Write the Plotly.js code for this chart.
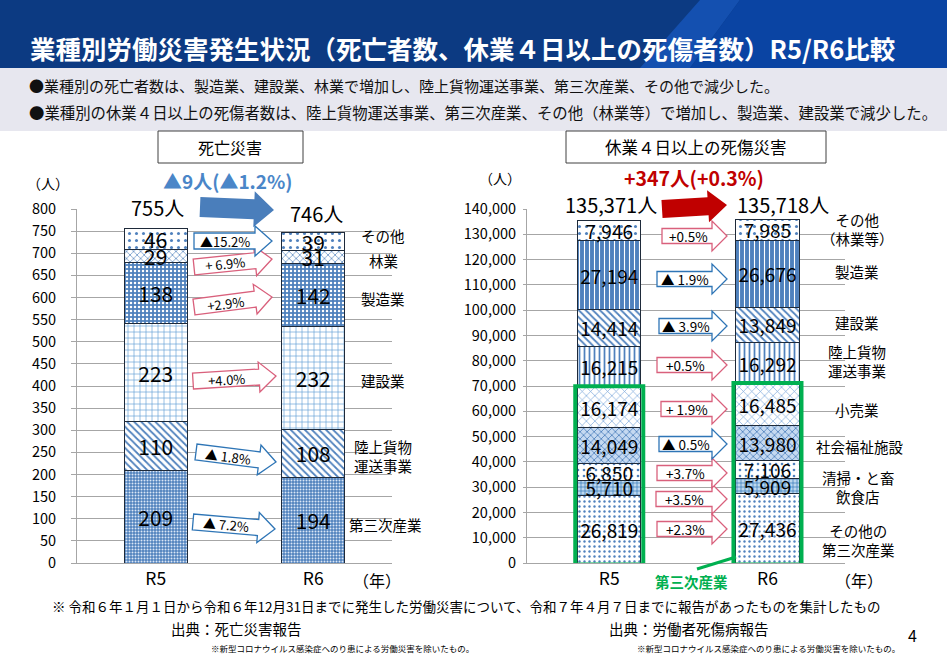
<!DOCTYPE html>
<html><head><meta charset="utf-8">
<script src="https://cdn.plot.ly/plotly-3.0.1.min.js"></script>
<style>html,body{margin:0;padding:0;background:#fff;} #chart{width:947px;height:655px;}</style>
</head><body><div id="chart"></div>
<script>
// ---------- DATA ----------
const years = ['R5', 'R6'];

// 死亡災害 (stack order bottom → top)
const fatalCategories = ['第三次産業', '陸上貨物運送事業', '建設業', '製造業', '林業', 'その他'];
const fatalTertiary = [209, 194];
const fatalTransport = [110, 108];
const fatalConstruction = [223, 232];
const fatalManufacturing = [138, 142];
const fatalForestry = [29, 31];
const fatalOther = [46, 39];
const fatalChange = ['▲ 7.2%', '▲ 1.8%', '+4.0%', '+2.9%', '+ 6.9%', '▲15.2%'];
const fatalDiffText = '▲9人(▲1.2%)';

// 休業4日以上の死傷災害 (stack order bottom → top)
const injuryCategories = ['その他の第三次産業', '飲食店', '清掃・と畜', '社会福祉施設', '小売業', '陸上貨物運送事業', '建設業', '製造業', 'その他（林業等）'];
const injOtherTertiary = [26819, 27436];
const injRestaurant = [5710, 5909];
const injCleaning = [6850, 7106];
const injWelfare = [14049, 13980];
const injRetail = [16174, 16485];
const injTransport = [16215, 16292];
const injConstruction = [14414, 13849];
const injManufacturing = [27194, 26676];
const injOther = [7946, 7985];
const injuryChange = ['+2.3%', '+3.5%', '+3.7%', '▲ 0.5%', '+ 1.9%', '+0.5%', '▲ 3.9%', '▲ 1.9%', '+0.5%'];
const injuryDiffText = '+347人(+0.3%)';

// ---------- HELPERS ----------
const W = 947, H = 655;
const px = x => x / W;
const py = y => 1 - y / H;
const FONT = '"Noto Sans CJK JP", "Noto Sans", sans-serif';
const EDGE = '#1e2a3a';
const fmt = v => v.toLocaleString('en-US');
const sum = arr => arr.reduce((a, b) => a + b, 0);

function pat(shape, bg, fg, size, solidity) {
  return {shape: shape, bgcolor: bg, fgcolor: fg, size: size, solidity: solidity, fillmode: 'replace'};
}
function barTrace(name, y, xa, ya, pattern, fsize, useComma) {
  return {
    type: 'bar', name: name, x: years, y: y, xaxis: xa, yaxis: ya,
    marker: {color: pattern.bgcolor, pattern: pattern, line: {color: EDGE, width: 1}},
    text: y.map(v => useComma ? fmt(v) : String(v)),
    textposition: 'inside', insidetextanchor: 'middle', constraintext: 'none', textangle: 0,
    textfont: {family: FONT, size: fsize, color: '#000'},
    hoverinfo: 'skip', showlegend: false
  };
}

// ---------- TRACES ----------
const fatalSeries = [fatalTertiary, fatalTransport, fatalConstruction, fatalManufacturing, fatalForestry, fatalOther];
const fatalPatterns = [
  pat('.', '#4f81bd', '#dbe7f6', 3, 0.35),
  pat('\\', '#ffffff', '#4f81bd', 5, 0.35),
  pat('+', '#ffffff', '#5b9bd5', 6, 0.2),
  pat('.', '#4f81bd', '#ffffff', 4, 0.3),
  pat('x', '#ffffff', '#4f81bd', 5, 0.25),
  pat('.', '#ffffff', '#4f81bd', 7, 0.15)
];
const injurySeries = [injOtherTertiary, injRestaurant, injCleaning, injWelfare, injRetail, injTransport, injConstruction, injManufacturing, injOther];
const injuryPatterns = [
  pat('.', '#ffffff', '#4f81bd', 5, 0.18),
  pat('+', '#bdd7ee', '#2e75b6', 4, 0.3),
  pat('.', '#ffffff', '#4f81bd', 6, 0.15),
  pat('x', '#c5d9f1', '#4f81bd', 5, 0.3),
  pat('x', '#ffffff', '#6f9fd8', 6, 0.2),
  pat('|', '#ffffff', '#4f81bd', 5, 0.35),
  pat('\\', '#ffffff', '#4f81bd', 5, 0.35),
  pat('|', '#4f81bd', '#ffffff', 5, 0.22),
  pat('.', '#ffffff', '#4f81bd', 7, 0.15)
];

const traces = [];
fatalSeries.forEach((s, i) => traces.push(barTrace(fatalCategories[i], s, 'x', 'y', fatalPatterns[i], 21, false)));
injurySeries.forEach((s, i) => traces.push(barTrace(injuryCategories[i], s, 'x2', 'y2', injuryPatterns[i], 19, true)));

// ---------- SHAPES ----------
const shapes = [];
// header
shapes.push({type: 'rect', xref: 'paper', yref: 'paper', x0: 0, x1: 1, y0: py(68), y1: 1, fillcolor: '#0c3a82', line: {width: 0}, layer: 'below'});
shapes.push({type: 'path', xref: 'paper', yref: 'paper', layer: 'below', line: {width: 0}, fillcolor: '#1450b0',
  path: `M${px(640)},${py(68)} L${px(700)},${py(0)} L${px(740)},${py(0)} L${px(690)},${py(68)} Z`});
shapes.push({type: 'path', xref: 'paper', yref: 'paper', layer: 'below', line: {width: 0}, fillcolor: '#0a44a3',
  path: `M${px(690)},${py(68)} L${px(740)},${py(0)} L${px(947)},${py(0)} L${px(947)},${py(68)} Z`});
shapes.push({type: 'rect', xref: 'paper', yref: 'paper', x0: 0, x1: 1, y0: py(131), y1: py(68), fillcolor: '#e7e7ef', line: {width: 0}, layer: 'below'});
// title boxes
shapes.push({type: 'rect', xref: 'paper', yref: 'paper', x0: px(158), x1: px(303), y0: py(163), y1: py(131), fillcolor: '#fff', line: {color: '#404040', width: 1}});
shapes.push({type: 'rect', xref: 'paper', yref: 'paper', x0: px(566), x1: px(826), y0: py(163), y1: py(131), fillcolor: '#fff', line: {color: '#404040', width: 1}});

function arrowPath(tx, ty, hx, hy, h, Hh, L) {
  const dx = hx - tx, dy = hy - ty, len = Math.hypot(dx, dy);
  const ux = dx / len, uy = dy / len, nx = -uy, ny = ux;
  const bx = hx - ux * L, by = hy - uy * L;
  const pts = [[tx + nx * h, ty + ny * h], [bx + nx * h, by + ny * h], [bx + nx * Hh, by + ny * Hh], [hx, hy],
               [bx - nx * Hh, by - ny * Hh], [bx - nx * h, by - ny * h], [tx - nx * h, ty - ny * h]];
  return 'M' + pts.map(p => px(p[0]).toFixed(5) + ',' + py(p[1]).toFixed(5)).join(' L') + ' Z';
}
const annotations = [];
function addArrow(tx, ty, hx, hy, h, Hh, L, color, fill, label, fsize) {
  shapes.push({type: 'path', xref: 'paper', yref: 'paper', path: arrowPath(tx, ty, hx, hy, h, Hh, L),
    fillcolor: fill, line: {color: color, width: fill === '#ffffff' ? 1.3 : 0}});
  if (label) {
    const ang = Math.atan2(hy - ty, hx - tx) * 180 / Math.PI;
    const cx = tx + (hx - tx) * 0.4, cy = ty + (hy - ty) * 0.4;
    annotations.push({xref: 'paper', yref: 'paper', x: px(cx), y: py(cy), text: label, showarrow: false,
      textangle: Math.abs(ang) < 0.5 ? 0 : ang, xanchor: 'center', yanchor: 'middle',
      font: {family: FONT, size: fsize, color: '#000'}});
  }
}
const ABLUE = '#2e75b6', APINK = '#d9607c';
// big arrows
addArrow(200, 207, 274, 210, 10, 18, 20, null, '#4a7ebb', null);
addArrow(662, 209, 727, 205, 9, 16, 19, null, '#c00000', null);
// left chart arrows (fatal), bottom → top
const fatalArrowGeom = [
  [193, 522, 275, 529, ABLUE], [196, 452, 276, 462, ABLUE], [193, 381, 276, 376, APINK],
  [194, 307, 272, 297, APINK], [194, 267, 272, 259, APINK], [194, 241, 272, 241, ABLUE]
];
fatalArrowGeom.forEach((g, i) => addArrow(g[0], g[1], g[2], g[3], 8, 15, 17, g[4], '#ffffff', fatalChange[i], 13));
// right chart arrows (injury), bottom → top
const injuryArrowGeom = [
  [657, 529, APINK], [656, 499, APINK], [657, 473, APINK], [659, 444, ABLUE], [661, 409, APINK],
  [657, 365, APINK], [659, 326, ABLUE], [657, 279, ABLUE], [662, 236, APINK]
];
injuryArrowGeom.forEach((g, i) => addArrow(g[0], g[1], 727, g[1], 7.5, 15, 15, g[2], '#ffffff', injuryChange[i], 13.5));

// green boxes around 第三次産業 (first five injury series)
const tertiaryTop = years.map((_, j) => sum(injurySeries.slice(0, 5).map(s => s[j])));
years.forEach((_, j) => shapes.push({type: 'rect', xref: 'x2', yref: 'y2', x0: j - 0.215, x1: j + 0.215, y0: -600, y1: tertiaryTop[j] + 300,
  line: {color: '#00b050', width: 4}, fillcolor: 'rgba(0,0,0,0)'}));
shapes.push({type: 'line', xref: 'paper', yref: 'paper', x0: px(697), y0: py(569), x1: px(736), y1: py(557), line: {color: '#00b050', width: 3}});

// ---------- TEXT ANNOTATIONS ----------
function txt(x, y, text, size, opts) {
  annotations.push(Object.assign({xref: 'paper', yref: 'paper', x: px(x), y: py(y), text: text, showarrow: false,
    xanchor: 'center', yanchor: 'middle', font: {family: FONT, size: size, color: '#000'}}, opts || {}));
}
txt(28, 47, '業種別労働災害発生状況（死亡者数、休業４日以上の死傷者数）R5/R6比較', 25.5,
  {xanchor: 'left', font: {family: FONT, size: 25.5, color: '#ffffff', weight: 700}});
txt(27, 85, '●業種別の死亡者数は、製造業、建設業、林業で増加し、陸上貨物運送事業、第三次産業、その他で減少した。', 15, {xanchor: 'left', font: {family: FONT, size: 15, color: '#111'}});
txt(27, 112, '●業種別の休業４日以上の死傷者数は、陸上貨物運送事業、第三次産業、その他（林業等）で増加し、製造業、建設業で減少した。', 15.4, {xanchor: 'left', font: {family: FONT, size: 15.4, color: '#111'}});
txt(230, 147, '死亡災害', 16);
txt(696, 147, '休業４日以上の死傷災害', 16.5);
txt(227, 180, fatalDiffText, 19, {font: {family: FONT, size: 19, color: '#4a86c8', weight: 700}});
txt(694, 177, injuryDiffText, 19.5, {font: {family: FONT, size: 19.5, color: '#c00000', weight: 700}});
txt(48, 183, '（人）', 14);
txt(500, 178, '（人）', 14);
const fatalTotals = years.map((_, j) => sum(fatalSeries.map(s => s[j])));
const injuryTotals = years.map((_, j) => sum(injurySeries.map(s => s[j])));
txt(157, 207, fatalTotals[0] + '人', 20);
txt(316, 214, fatalTotals[1] + '人', 20);
txt(611, 205, fmt(injuryTotals[0]) + '人', 20);
txt(783, 204, fmt(injuryTotals[1]) + '人', 20);
txt(377, 580, '（年）', 16);
txt(859, 580, '（年）', 16);
txt(691, 581, '第三次産業', 14.5, {font: {family: FONT, size: 14.5, color: '#00b050', weight: 700}});
// category labels
const fatalLabelPos = [[385, 524, '第三次産業'], [383, 456, '陸上貨物<br>運送事業'], [383, 380, '建設業'], [383, 298, '製造業'], [383, 260, '林業'], [383, 235, 'その他']];
fatalLabelPos.forEach(p => txt(p[0], p[1], p[2], 14.5));
const injuryLabelPos = [[858, 540, 'その他の<br>第三次産業'], [858, 497, '飲食店'], [858, 477, '清掃・と畜'], [860, 446, '社会福祉施設'], [857, 409, '小売業'],
  [857, 361, '陸上貨物<br>運送事業'], [857, 322, '建設業'], [857, 271, '製造業'], [857, 229, 'その他<br>（林業等）']];
injuryLabelPos.forEach(p => txt(p[0], p[1], p[2], 14.5));
// footnotes
txt(466, 606, '※ 令和６年１月１日から令和６年12月31日までに発生した労働災害について、令和７年４月７日までに報告があったものを集計したもの', 13.5);
txt(236, 628, '出典：死亡災害報告', 14.5);
txt(689, 628, '出典：労働者死傷病報告', 14.5);
txt(342, 648, '※新型コロナウイルス感染症へのり患による労働災害を除いたもの。', 8.5);
txt(768, 648, '※新型コロナウイルス感染症へのり患による労働災害を除いたもの。', 8.5);
txt(912, 635, '4', 16);

// ---------- LAYOUT ----------
const gridCol = '#a6a6a6';
const xBase = {type: 'category', showgrid: false, showline: true, linecolor: gridCol, ticks: '', tickfont: {family: FONT, size: 17.5, color: '#000'}, fixedrange: true};
const yBase = {showgrid: true, gridcolor: gridCol, gridwidth: 1, zeroline: false, showline: true, linecolor: gridCol, ticks: 'outside', tickcolor: gridCol,
  tickfont: {family: FONT, size: 14.5, color: '#000'}, fixedrange: true};
const layout = {
  width: W, height: H, margin: {l: 0, r: 0, t: 0, b: 0}, paper_bgcolor: '#ffffff', plot_bgcolor: 'rgba(0,0,0,0)',
  barmode: 'stack', bargap: 0.6, showlegend: false, font: {family: FONT},
  xaxis: Object.assign({}, xBase, {domain: [px(77), px(392)], range: [-0.5, 1.5], anchor: 'y'}),
  yaxis: Object.assign({}, yBase, {domain: [py(563), py(209)], range: [0, 800], dtick: 50, ticklen: 5, ticklabelstandoff: 12, anchor: 'x'}),
  xaxis2: Object.assign({}, xBase, {domain: [px(527), px(845)], range: [-0.52, 1.49], anchor: 'y2'}),
  yaxis2: Object.assign({}, yBase, {domain: [py(563), py(209)], range: [0, 140000], dtick: 10000, tickformat: ',d', ticklen: 3, ticklabelstandoff: 4, anchor: 'x2'}),
  shapes: shapes, annotations: annotations
};
Plotly.newPlot('chart', traces, layout, {staticPlot: true, displayModeBar: false});
</script>
</body></html>
